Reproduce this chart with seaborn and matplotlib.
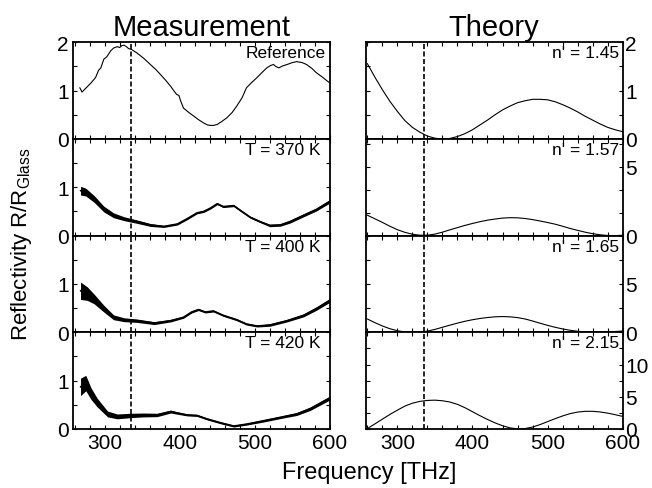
import numpy as np
import pandas as pd
import seaborn as sns
import matplotlib.pyplot as plt
from matplotlib.ticker import MultipleLocator, FixedLocator

# ---- data ----
# measurement: reference (glass)
ref_f = [267, 270, 275, 282, 288, 292, 295, 299, 303, 308, 312, 317, 320, 323, 326, 329, 332, 336,
         343, 352, 361, 368, 374, 381, 388, 393, 396, 399, 401, 405, 412, 419, 425, 432, 437, 441,
         445, 450, 456, 463, 470, 476, 483, 489, 496, 503, 510, 516, 521, 525, 528, 532, 537, 543,
         550, 556, 563, 569, 576, 582, 590, 598, 600]
ref_r = [1.06, 0.97, 1.05, 1.16, 1.27, 1.42, 1.47, 1.65, 1.70, 1.82, 1.88, 1.91, 1.89, 1.93, 1.94, 1.91, 1.87, 1.85,
         1.78, 1.67, 1.54, 1.44, 1.34, 1.22, 1.09, 0.98, 0.92, 0.90, 0.80, 0.64, 0.55, 0.47, 0.40, 0.33, 0.29, 0.28,
         0.28, 0.30, 0.36, 0.44, 0.55, 0.68, 0.85, 1.06, 1.17, 1.27, 1.38, 1.47, 1.52, 1.54, 1.50, 1.47, 1.51, 1.54,
         1.58, 1.60, 1.58, 1.54, 1.46, 1.37, 1.28, 1.18, 1.16]

# T = 370 K
t370_f = [268, 275, 286, 299, 312, 326, 343, 361, 379, 397, 410, 423, 432, 441, 450, 458,
          472, 481, 494, 507, 520, 534, 547, 565, 582, 600]
t370_r = [0.93, 0.90, 0.76, 0.55, 0.42, 0.35, 0.29, 0.22, 0.19, 0.24, 0.35, 0.47, 0.50, 0.57, 0.66, 0.60,
          0.62, 0.52, 0.38, 0.29, 0.21, 0.22, 0.29, 0.42, 0.54, 0.71]
t370_noise = [0.09, 0.08, 0.07, 0.06, 0.05, 0.04, 0.035, 0.03, 0.02, 0.02, 0.02, 0.02, 0.02, 0.02, 0.02, 0.02,
              0.02, 0.02, 0.02, 0.02, 0.025, 0.025, 0.03, 0.03, 0.03, 0.035]

# T = 400 K
t400_f = [268, 277, 286, 299, 312, 326, 343, 366, 388, 405, 416, 425, 434, 445, 458, 476,
          489, 503, 520, 543, 565, 582, 600]
t400_r = [0.86, 0.80, 0.69, 0.49, 0.31, 0.26, 0.24, 0.19, 0.24, 0.31, 0.42, 0.47, 0.42, 0.44, 0.35, 0.26,
          0.17, 0.13, 0.15, 0.24, 0.35, 0.49, 0.66]
t400_noise = [0.18, 0.14, 0.1, 0.07, 0.05, 0.04, 0.035, 0.03, 0.025, 0.02, 0.02, 0.02, 0.02, 0.02, 0.02, 0.02,
              0.02, 0.02, 0.025, 0.025, 0.03, 0.035, 0.04]

# T = 420 K
t420_f = [268, 275, 282, 290, 304, 317, 335, 352, 370, 388, 397, 410, 423, 436, 454, 472,
          489, 512, 534, 556, 574, 600]
t420_r = [0.87, 0.95, 0.73, 0.55, 0.31, 0.26, 0.28, 0.29, 0.29, 0.36, 0.33, 0.29, 0.28, 0.21, 0.13, 0.06,
          0.10, 0.17, 0.24, 0.31, 0.42, 0.64]
t420_noise = [0.18, 0.16, 0.12, 0.09, 0.06, 0.05, 0.045, 0.04, 0.035, 0.03, 0.025, 0.02, 0.02, 0.02, 0.02, 0.02,
              0.02, 0.025, 0.025, 0.03, 0.035, 0.04]

# theory curves (sampled every 10 THz)
theo_f = [260, 270, 280, 290, 300, 310, 320, 330, 340, 350, 360, 370, 380, 390, 400, 410, 420, 430,
          440, 450, 460, 470, 480, 490, 500, 510, 520, 530, 540, 550, 560, 570, 580, 590, 600]
n145_r = [1.56, 1.28, 1.02, 0.78, 0.57, 0.38, 0.24, 0.14, 0.06, 0.015, 0.0, 0.01, 0.05, 0.11, 0.19, 0.29, 0.39, 0.50,
          0.60, 0.68, 0.75, 0.79, 0.82, 0.82, 0.81, 0.77, 0.71, 0.64, 0.56, 0.47, 0.39, 0.31, 0.24, 0.19, 0.15]
n157_r = [1.48, 1.22, 0.96, 0.68, 0.43, 0.24, 0.10, 0.03, 0.03, 0.11, 0.25, 0.42, 0.58, 0.74, 0.88, 1.01, 1.12, 1.20,
          1.27, 1.30, 1.29, 1.24, 1.16, 1.06, 0.95, 0.83, 0.68, 0.52, 0.38, 0.25, 0.14, 0.06, 0.01, 0.0, 0.03]
n165_r = [1.38, 1.00, 0.66, 0.37, 0.16, 0.04, 0.0, 0.03, 0.12, 0.30, 0.52, 0.74, 0.95, 1.14, 1.30, 1.43, 1.53, 1.60,
          1.63, 1.60, 1.52, 1.38, 1.17, 0.94, 0.72, 0.52, 0.35, 0.21, 0.11, 0.05, 0.02, 0.02, 0.04, 0.08, 0.13]
n215_r = [0.05, 0.78, 1.52, 2.25, 2.92, 3.55, 4.00, 4.28, 4.43, 4.47, 4.38, 4.18, 3.82, 3.30, 2.68, 2.06, 1.48, 0.95,
          0.50, 0.17, 0.02, 0.06, 0.30, 0.68, 1.14, 1.60, 2.02, 2.38, 2.62, 2.74, 2.74, 2.64, 2.46, 2.22, 1.95]

meas_labels = ['Reference', 'T = 370 K', 'T = 400 K', 'T = 420 K']
theo_labels = ["n' = 1.45", "n' = 1.57", "n' = 1.65", "n' = 2.15"]
theo_ylim = [2, 7, 10, 15]
marker_f = 335

sns.set_theme(style='ticks')
plt.rcParams['font.family'] = ['Liberation Sans', 'DejaVu Sans']
plt.rcParams['mathtext.default'] = 'regular'
plt.rcParams['text.color'] = 'black'
plt.rcParams['axes.labelcolor'] = 'black'
plt.rcParams['xtick.color'] = 'black'
plt.rcParams['ytick.color'] = 'black'

fig = plt.figure(figsize=(6.52, 4.89), dpi=100)
gs = fig.add_gridspec(4, 2, left=0.112, right=0.955, top=0.9115, bottom=0.1207,
                      hspace=0, wspace=0.14)

meas = [(ref_f, ref_r, None), (t370_f, t370_r, t370_noise),
        (t400_f, t400_r, t400_noise), (t420_f, t420_r, t420_noise)]
theo = [n145_r, n157_r, n165_r, n215_r]


def style_axis(ax, bottom):
    ax.set_xlim(258, 600)
    ax.xaxis.set_major_locator(FixedLocator([300, 400, 500, 600]))
    ax.xaxis.set_minor_locator(MultipleLocator(20))
    ax.tick_params(which='both', direction='in', top=True, bottom=True, left=True, right=True,
                   length=3, width=0.8, labelsize=15, pad=3, colors='black')
    if not bottom:
        ax.tick_params(axis='x', labelbottom=False)
    for s in ax.spines.values():
        s.set_linewidth(1.3)
        s.set_color('black')
    ax.set_xlabel('')
    ax.set_ylabel('')


for i in range(4):
    # measurement column
    ax = fig.add_subplot(gs[i, 0])
    f, r, noise = meas[i]
    df = pd.DataFrame({'f': f, 'r': r})
    if noise is None:
        sns.lineplot(data=df, x='f', y='r', ax=ax, color='black', lw=0.8)
    else:
        lo = np.array(r) - np.array(noise)
        hi = np.array(r) + np.array(noise)
        ax.fill_between(f, lo, hi, color='black', lw=0)
        sns.lineplot(data=df, x='f', y='r', ax=ax, color='black', lw=1.2)
    ax.axvline(marker_f, color='black', lw=1.2, ls=(0, (3, 1.5)))
    ax.set_ylim(0, 2)
    ax.yaxis.set_major_locator(FixedLocator([0, 1, 2]))
    ax.yaxis.set_minor_locator(MultipleLocator(0.5))
    style_axis(ax, i == 3)
    if i > 0:
        ax.set_yticklabels(['0', '1', ''])
    ax.text(0.985 if i == 0 else 0.965, 0.89, meas_labels[i], transform=ax.transAxes,
            ha='right', va='center', fontsize=12.5)
    if i == 0:
        ax.set_title('Measurement', fontsize=21, pad=5)

    # theory column
    ax = fig.add_subplot(gs[i, 1])
    df = pd.DataFrame({'f': theo_f, 'r': theo[i]})
    sns.lineplot(data=df, x='f', y='r', ax=ax, color='black', lw=0.8)
    ax.axvline(marker_f, color='black', lw=1.2, ls=(0, (3, 1.5)))
    ax.set_ylim(0, theo_ylim[i])
    if i == 0:
        ax.yaxis.set_major_locator(FixedLocator([0, 1, 2]))
        ax.yaxis.set_minor_locator(MultipleLocator(0.5))
    elif i == 1:
        ax.yaxis.set_major_locator(FixedLocator([0, 5]))
        ax.yaxis.set_minor_locator(MultipleLocator(5 / 3))
    elif i == 2:
        ax.yaxis.set_major_locator(FixedLocator([0, 5, 10]))
        ax.yaxis.set_minor_locator(MultipleLocator(2.5))
    else:
        ax.yaxis.set_major_locator(FixedLocator([0, 5, 10, 15]))
        ax.yaxis.set_minor_locator(MultipleLocator(2.5))
    style_axis(ax, i == 3)
    ax.tick_params(axis='y', labelleft=False, labelright=True, pad=2)
    if i == 2:
        ax.set_yticklabels(['0', '5', ''])
    if i == 3:
        ax.set_yticklabels(['0', '5', '10', ''])
    ax.text(0.985, 0.89, theo_labels[i], transform=ax.transAxes,
            ha='right', va='center', fontsize=12.5)
    if i == 0:
        ax.set_title('Theory', fontsize=21, pad=5)

fig.text(0.567, 0.033, 'Frequency [THz]', ha='center', va='center', fontsize=17)
fig.text(0.033, 0.5, 'Reflectivity R/R$_{Glass}$', ha='center', va='center',
         rotation=90, fontsize=16)

plt.savefig('out.png', dpi=100)
